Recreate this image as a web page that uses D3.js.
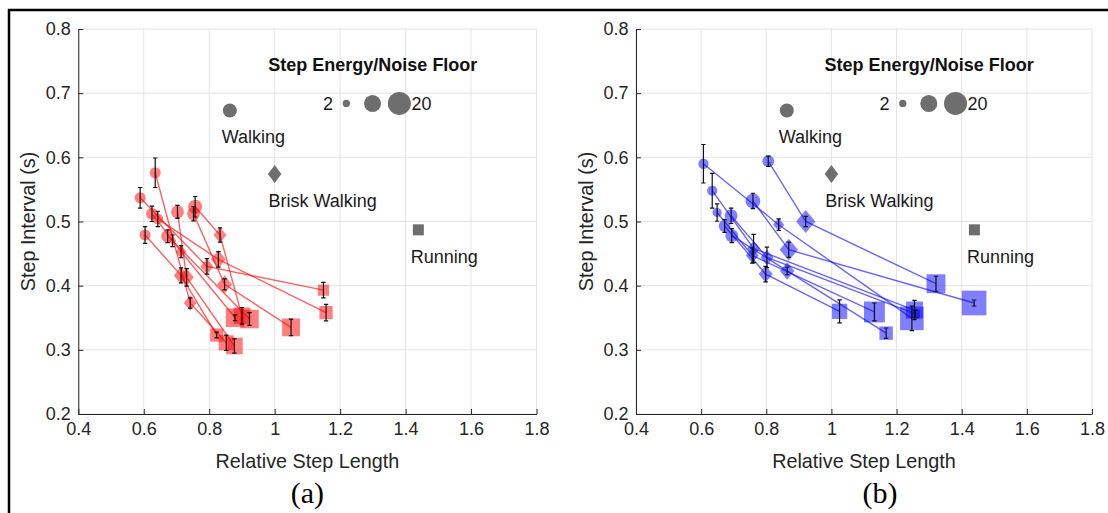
<!DOCTYPE html>
<html>
<head>
<meta charset="utf-8">
<script src="https://cdn.jsdelivr.net/npm/d3@7"></script>
<style>
  body { margin: 0; background: #fff; }
  svg { display: block; font-family: Arial, "Liberation Sans", Helvetica, sans-serif; }
</style>
</head>
<body>
<svg id="chart" width="1108" height="513"></svg>
<script>
// --- data ---
const xTicks = [0.4, 0.6, 0.8, 1, 1.2, 1.4, 1.6, 1.8];
const yTicks = [0.2, 0.3, 0.4, 0.5, 0.6, 0.7, 0.8];
const sizeLegend = [2, 11, 20];
const stateNames = ['Walking', 'Brisk Walking', 'Running'];

// [relative step length, step interval (s), error, step energy / noise floor]
// row i of walking/brisk/running is the same subject
const aWalking = [
  [0.635, 0.576, 0.023, 4.6], [0.589, 0.537, 0.016, 4.6], [0.625, 0.512, 0.012, 5.3],
  [0.643, 0.504, 0.012, 4.4], [0.604, 0.479, 0.013, 4.6], [0.703, 0.515, 0.010, 6.3],
  [0.757, 0.523, 0.016, 7.5], [0.752, 0.512, 0.011, 6.3], [0.673, 0.477, 0.010, 6.3]
];
const aBrisk = [
  [0.742, 0.373, 0.008, 6.3], [0.793, 0.430, 0.012, 6.3], [0.714, 0.453, 0.0095, 4.6],
  [0.828, 0.441, 0.012, 8.6], [0.714, 0.416, 0.0116, 8], [0.731, 0.413, 0.0137, 8],
  [0.833, 0.479, 0.011, 6.3], [0.847, 0.402, 0.0085, 8.6], [0.688, 0.470, 0.009, 2.3]
];
const aRunning = [
  [0.852, 0.311, 0.012, 8.6], [1.149, 0.393, 0.012, 4.7], [0.879, 0.350, 0.0045, 13],
  [1.157, 0.358, 0.013, 6.6], [0.823, 0.323, 0.0045, 6.6], [0.877, 0.306, 0.011, 10.5],
  [0.900, 0.353, 0.013, 10.5], [1.050, 0.335, 0.013, 12], [0.923, 0.348, 0.010, 13]
];

const bWalking = [
  [0.607, 0.590, 0.030, 4], [0.806, 0.594, 0.008, 5.3], [0.759, 0.532, 0.012, 8.2],
  [0.634, 0.548, 0.027, 4], [0.649, 0.514, 0.0136, 3.2], [0.692, 0.509, 0.012, 6.3],
  [0.672, 0.493, 0.010, 5.3], [0.694, 0.478, 0.011, 6.3]
];
const bBrisk = [
  [0.838, 0.495, 0.009, 4.6], [0.921, 0.500, 0.008, 13.8], [0.869, 0.456, 0.012, 12.6],
  [0.761, 0.458, 0.022, 6.3], [0.757, 0.447, 0.012, 6.3], [0.802, 0.444, 0.016, 6.3],
  [0.798, 0.418, 0.012, 7.5], [0.864, 0.423, 0.006, 8]
];
const bRunning = [
  [1.247, 0.349, 0.019, 21], [1.321, 0.403, 0.0117, 13.5], [1.438, 0.373, 0.0047, 23],
  [1.255, 0.362, 0.015, 11], [1.132, 0.359, 0.014, 16.5], [1.258, 0.356, 0.006, 3.2],
  [1.025, 0.360, 0.018, 8.8], [1.168, 0.326, 0.008, 6.8]
];

// --- drawing ---
const svg = d3.select('#chart');
const axisColor = '#262626';
const gridColor = '#e4e4e4';
const legendGrey = '#6e6e6e';
const textColor = '#1a1a1a';

// marker "diameter" in px from step energy / noise floor
const size = d3.scaleSqrt().domain([0, 20]).range([0, 23]);

const diamondPath = (hw, hh) => `M0,${-hh}L${hw},0L0,${hh}L${-hw},0Z`;

// outer frame (top + left rule)
svg.append('line').attr('x1', 8).attr('x2', 1108).attr('y1', 10).attr('y2', 10)
  .attr('stroke', '#000').attr('stroke-width', 2.5);
svg.append('line').attr('x1', 9).attr('x2', 9).attr('y1', 9).attr('y2', 513)
  .attr('stroke', '#000').attr('stroke-width', 2.5);

function drawPanel(left, right, fill, lineColor, walking, brisk, running, tag, tagShift) {
  const x = d3.scaleLinear().domain([0.4, 1.8]).range([left, right]);
  const y = d3.scaleLinear().domain([0.2, 0.8]).range([414, 29]);
  const g = svg.append('g');

  // grid
  g.append('g').selectAll('line').data(xTicks).enter().append('line')
    .attr('x1', d => x(d)).attr('x2', d => x(d))
    .attr('y1', y(0.2)).attr('y2', y(0.8))
    .attr('stroke', gridColor);
  g.append('g').selectAll('line').data(yTicks).enter().append('line')
    .attr('x1', x(0.4)).attr('x2', x(1.8))
    .attr('y1', d => y(d)).attr('y2', d => y(d))
    .attr('stroke', gridColor);

  // axes (MATLAB style: inward ticks)
  const fmt = d3.format('~g');
  const gx = g.append('g').attr('transform', `translate(0,${y(0.2)})`)
    .call(d3.axisBottom(x).tickValues(xTicks).tickFormat(fmt)
      .tickSizeInner(-5).tickSizeOuter(0).tickPadding(8));
  const gy = g.append('g').attr('transform', `translate(${x(0.4)},0)`)
    .call(d3.axisLeft(y).tickValues(yTicks).tickFormat(fmt)
      .tickSizeInner(-5).tickSizeOuter(0).tickPadding(7.5));
  [gx, gy].forEach(a => {
    a.select('.domain').attr('stroke', axisColor);
    a.selectAll('.tick line').attr('stroke', axisColor);
    a.selectAll('.tick text').attr('fill', axisColor)
      .style('font-size', '18px').style('font-family', 'Arial, "Liberation Sans", sans-serif');
  });

  // axis titles
  g.append('text').attr('x', (left + right) / 2).attr('y', 468)
    .attr('text-anchor', 'middle').attr('fill', axisColor).style('font-size', '19.8px')
    .text('Relative Step Length');
  g.append('text').attr('transform', `translate(${left - 43},${y(0.5)}) rotate(-90)`)
    .attr('text-anchor', 'middle').attr('fill', axisColor).style('font-size', '19.8px')
    .text('Step Interval (s)');

  // subject lines walking -> brisk -> running
  const line = d3.line().x(d => x(d[0])).y(d => y(d[1]));
  g.append('g').selectAll('path').data(walking.map((w, i) => [w, brisk[i], running[i]]))
    .enter().append('path')
    .attr('d', line).attr('fill', 'none')
    .attr('stroke', lineColor).attr('stroke-width', 1.4);

  // markers
  const mk = g.append('g').attr('fill', fill);
  mk.selectAll('circle').data(walking).enter().append('circle')
    .attr('cx', d => x(d[0])).attr('cy', d => y(d[1]))
    .attr('r', d => size(d[3]) / 2);
  mk.selectAll('path.dia').data(brisk).enter().append('path').attr('class', 'dia')
    .attr('transform', d => `translate(${x(d[0])},${y(d[1])})`)
    .attr('d', d => diamondPath(size(d[3]) * 0.5, size(d[3]) * 0.6));
  mk.selectAll('rect').data(running).enter().append('rect')
    .attr('x', d => x(d[0]) - size(d[3]) / 2).attr('y', d => y(d[1]) - size(d[3]) / 2)
    .attr('width', d => size(d[3])).attr('height', d => size(d[3]));

  // error bars
  const eb = g.append('g').attr('stroke', '#111').attr('stroke-width', 1.2).attr('fill', 'none');
  const allPts = walking.concat(brisk, running);
  eb.selectAll('path').data(allPts).enter().append('path')
    .attr('d', d => {
      const cx = x(d[0]), y0 = y(d[1] - d[2]), y1 = y(d[1] + d[2]);
      return `M${cx},${y0}V${y1}M${cx - 2.2},${y0}H${cx + 2.2}M${cx - 2.2},${y1}H${cx + 2.2}`;
    });

  // legend: states
  const lg = g.append('g');
  lg.append('circle').attr('cx', x(0.863)).attr('cy', y(0.673)).attr('r', 7).attr('fill', legendGrey);
  lg.append('path').attr('transform', `translate(${x(1.0)},${y(0.574)})`)
    .attr('d', diamondPath(6.7, 9)).attr('fill', legendGrey);
  lg.append('rect').attr('x', x(1.439) - 5.5).attr('y', y(0.487) - 5.5)
    .attr('width', 11).attr('height', 11).attr('fill', legendGrey);
  const labelPos = [[0.838, 0.622], [0.981, 0.523], [1.416, 0.436]];
  lg.selectAll('text.state').data(stateNames).enter().append('text').attr('class', 'state')
    .attr('x', (d, i) => x(labelPos[i][0])).attr('y', (d, i) => y(labelPos[i][1]))
    .attr('fill', textColor).style('font-size', '18px').text(d => d);

  // legend: energy sizes
  lg.append('text').attr('x', x(1.30)).attr('y', y(0.734)).attr('text-anchor', 'middle')
    .attr('fill', '#111').style('font-size', '18px').style('font-weight', 'bold')
    .text('Step Energy/Noise Floor');
  const sizeX = [1.219, 1.299, 1.381];
  lg.selectAll('circle.sz').data(sizeLegend).enter().append('circle').attr('class', 'sz')
    .attr('cx', (d, i) => x(sizeX[i])).attr('cy', y(0.684))
    .attr('r', d => size(d) / 2).attr('fill', legendGrey);
  lg.append('text').attr('x', x(1.178)).attr('y', y(0.684)).attr('dy', '0.36em')
    .attr('text-anchor', 'end').attr('fill', textColor).style('font-size', '18px')
    .text(sizeLegend[0]);
  lg.append('text').attr('x', x(1.418)).attr('y', y(0.684)).attr('dy', '0.36em')
    .attr('fill', textColor).style('font-size', '18px')
    .text(sizeLegend[sizeLegend.length - 1]);

  // panel tag
  g.append('text').attr('x', (left + right) / 2 + tagShift).attr('y', 503)
    .attr('text-anchor', 'middle').attr('fill', '#000')
    .style('font-family', '"Liberation Serif", "Times New Roman", serif').style('font-size', '30px')
    .text(tag);
}

drawPanel(78.3, 536.5, 'rgba(255,0,0,0.5)', 'rgba(255,0,0,0.62)', aWalking, aBrisk, aRunning, '(a)', 0);
drawPanel(636, 1092, 'rgba(0,0,255,0.5)', 'rgba(0,0,255,0.6)', bWalking, bBrisk, bRunning, '(b)', 16);
</script>
</body>
</html>
